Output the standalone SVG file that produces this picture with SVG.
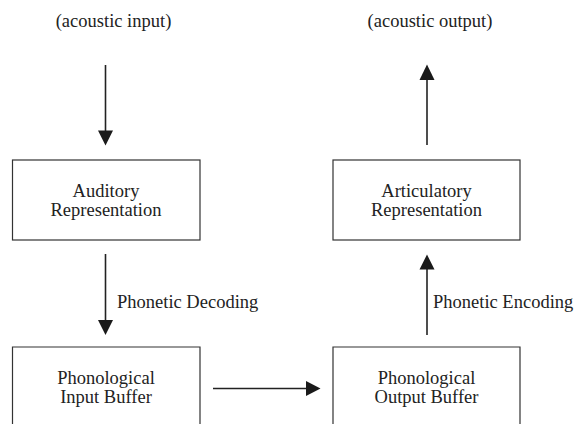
<svg xmlns="http://www.w3.org/2000/svg" width="577" height="425" viewBox="0 0 577 425">
<style>
text{font-family:"Liberation Serif","Times New Roman",serif;font-size:18.5px;fill:#222;}
.c{text-anchor:middle;}
.box{fill:#fff;stroke:#333;stroke-width:1.2;}
.arr{stroke:#222;stroke-width:1.6;fill:none;}
.head{fill:#1a1a1a;}
</style>
<rect width="577" height="425" fill="#fff"/>
<g id="acoustic-input"><text class="c" x="113.5" y="27">(acoustic input)</text></g>
<g id="acoustic-output"><text class="c" x="430" y="27">(acoustic output)</text></g>
<g id="auditory">
<rect class="box" x="12.5" y="160" width="187.5" height="80"/>
<text class="c" x="106" y="197">Auditory</text>
<text class="c" x="106" y="215.5">Representation</text>
</g>
<g id="articulatory">
<rect class="box" x="333" y="160" width="187" height="80"/>
<text class="c" x="426.5" y="197">Articulatory</text>
<text class="c" x="426.5" y="215.5">Representation</text>
</g>
<g id="input-buffer">
<path class="box" d="M12.5,424 V347 H200 V424"/>
<text class="c" x="106" y="383.5">Phonological</text>
<text class="c" x="106" y="402.5">Input Buffer</text>
</g>
<g id="output-buffer">
<path class="box" d="M333,424 V347 H520 V424"/>
<text class="c" x="426.5" y="383.5">Phonological</text>
<text class="c" x="426.5" y="402.5">Output Buffer</text>
</g>
<g id="connectors">
<line class="arr" x1="105.5" y1="65" x2="105.5" y2="132"/>
<polygon class="head" points="98,130.5 113,130.5 105.5,145.5"/>
<line class="arr" x1="427" y1="145" x2="427" y2="78"/>
<polygon class="head" points="419.5,80 434.5,80 427,64.5"/>
<line class="arr" x1="105.5" y1="254" x2="105.5" y2="322"/>
<polygon class="head" points="98,320 113,320 105.5,335"/>
<text x="117" y="308">Phonetic Decoding</text>
<line class="arr" x1="427" y1="335" x2="427" y2="268"/>
<polygon class="head" points="419.5,269.5 434.5,269.5 427,254.5"/>
<text x="433" y="308">Phonetic Encoding</text>
<line class="arr" x1="213" y1="388.5" x2="308" y2="388.5"/>
<polygon class="head" points="306,381 306,396 320.5,388.5"/>
</g>
</svg>
